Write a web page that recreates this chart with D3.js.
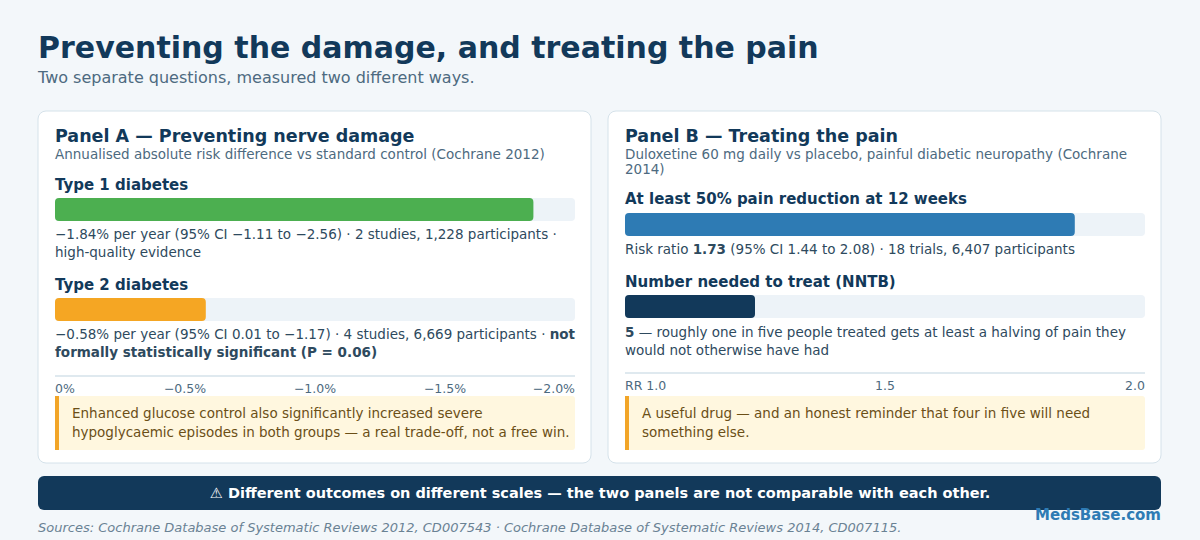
<!DOCTYPE html>
<html><head><meta charset="utf-8">
<script src="https://cdn.jsdelivr.net/npm/d3@7"></script>
<style>body{margin:0;background:#f3f7fa;font-family:"DejaVu Sans",sans-serif}</style>
</head><body><div id="chart"></div>
<script>
// data
const t1Value = 1.84, t2Value = 0.58;
const panelATicks = [0, 0.5, 1.0, 1.5, 2.0];
const panelATickLabels = ["0%", "\u22120.5%", "\u22121.0%", "\u22121.5%", "\u22122.0%"];
const rrValue = 1.73, nntValue = 5;
const panelBTicks = [1.0, 1.5, 2.0];
const panelBTickLabels = ["RR 1.0", "1.5", "2.0"];

const W = 1200, H = 540;
const svg = d3.select("#chart").append("svg").attr("width", W).attr("height", H);
svg.append("rect").attr("width", W).attr("height", H).attr("fill", "#f3f7fa");

const dark = "#12395a", grey = "#4d6a80";
svg.append("text").attr("x", 38).attr("y", 58).attr("font-size", 30).attr("font-weight", "bold")
  .attr("fill", dark).text("Preventing the damage, and treating the pain");
svg.append("text").attr("x", 38).attr("y", 83).attr("font-size", 16).attr("fill", grey)
  .text("Two separate questions, measured two different ways.");

function lines(g, x, y, arr, opts) {
  const t = g.append("text").attr("x", x).attr("y", y).attr("font-size", opts.size || 13.5)
    .attr("fill", opts.fill || "#2e4a5e");
  arr.forEach((ln, i) => {
    const tl = t.append("tspan").attr("x", x).attr("dy", i ? (opts.lh || 18) : 0);
    ln.forEach(seg => {
      const s = typeof seg === "string" ? {t: seg} : seg;
      tl.append("tspan").attr("font-weight", s.b ? "bold" : null).text(s.t);
    });
  });
  return t;
}
function bar(g, x, y, w, val, color) {
  g.append("rect").attr("x", x.range()[0]).attr("y", y).attr("width", w).attr("height", 23)
    .attr("rx", 4).attr("fill", "#edf3f8");
  g.append("rect").attr("x", x.range()[0]).attr("y", y).attr("width", x(val) - x.range()[0])
    .attr("height", 23).attr("rx", 4).attr("fill", color);
}
function panel(x0) {
  const g = svg.append("g");
  g.append("rect").attr("x", x0).attr("y", 111).attr("width", 553).attr("height", 352)
    .attr("rx", 8).attr("fill", "#fff").attr("stroke", "#d5e2ea");
  return g;
}
function note(g, x0, arr) {
  g.append("rect").attr("x", x0).attr("y", 396).attr("width", 520).attr("height", 54)
    .attr("rx", 3).attr("fill", "#fff7df");
  g.append("rect").attr("x", x0).attr("y", 396).attr("width", 4).attr("height", 54).attr("fill", "#f2a527");
  lines(g, x0 + 17, 418, arr, {fill: "#6b4f17", size: 13.5, lh: 19});
}

// Panel A
const gA = panel(38);
const xA = d3.scaleLinear().domain([0, 2]).range([55, 575]);
gA.append("text").attr("x", 55).attr("y", 142).attr("font-size", 17.5).attr("font-weight", "bold").attr("fill", dark)
  .text("Panel A \u2014 Preventing nerve damage");
lines(gA, 55, 159, [["Annualised absolute risk difference vs standard control (Cochrane 2012)"]], {fill: grey, size: 13.5});
gA.append("text").attr("x", 55).attr("y", 190).attr("font-size", 15).attr("font-weight", "bold").attr("fill", dark).text("Type 1 diabetes");
bar(gA, xA, 198, 520, t1Value, "#4caf50");
lines(gA, 55, 239, [["\u22121.84% per year (95% CI \u22121.11 to \u22122.56) \u00b7 2 studies, 1,228 participants \u00b7"], ["high-quality evidence"]], {});
gA.append("text").attr("x", 55).attr("y", 290).attr("font-size", 15).attr("font-weight", "bold").attr("fill", dark).text("Type 2 diabetes");
bar(gA, xA, 298, 520, t2Value, "#f5a623");
lines(gA, 55, 339, [["\u22120.58% per year (95% CI 0.01 to \u22121.17) \u00b7 4 studies, 6,669 participants \u00b7 ", {t: "not", b: 1}], [{t: "formally statistically significant (P = 0.06)", b: 1}]], {});
gA.append("line").attr("x1", 55).attr("x2", 575).attr("y1", 376).attr("y2", 376).attr("stroke", "#d5e2ea").attr("stroke-width", 1.5);
gA.selectAll(".tA").data(panelATicks).join("text")
  .attr("x", d => xA(d)).attr("y", 393).attr("font-size", 12.5).attr("fill", grey)
  .attr("text-anchor", (d, i) => i === 0 ? "start" : i === panelATicks.length - 1 ? "end" : "middle")
  .text((d, i) => panelATickLabels[i]);
note(gA, 55, [["Enhanced glucose control also significantly increased severe"], ["hypoglycaemic episodes in both groups \u2014 a real trade-off, not a free win."]]);

// Panel B
const gB = panel(608);
const xRR = d3.scaleLinear().domain([0, 2]).range([625, 1145]);
const xNNT = d3.scaleLinear().domain([0, 20]).range([625, 1145]);
const xLab = d3.scaleLinear().domain([1, 2]).range([625, 1145]);
gB.append("text").attr("x", 625).attr("y", 142).attr("font-size", 17.5).attr("font-weight", "bold").attr("fill", dark)
  .text("Panel B \u2014 Treating the pain");
lines(gB, 625, 159, [["Duloxetine 60 mg daily vs placebo, painful diabetic neuropathy (Cochrane"], ["2014)"]], {fill: grey, size: 13.5, lh: 15});
gB.append("text").attr("x", 625).attr("y", 204).attr("font-size", 15).attr("font-weight", "bold").attr("fill", dark).text("At least 50% pain reduction at 12 weeks");
bar(gB, xRR, 213, 520, rrValue, "#2e7bb4");
lines(gB, 625, 254, [["Risk ratio ", {t: "1.73", b: 1}, " (95% CI 1.44 to 2.08) \u00b7 18 trials, 6,407 participants"]], {});
gB.append("text").attr("x", 625).attr("y", 287).attr("font-size", 15).attr("font-weight", "bold").attr("fill", dark).text("Number needed to treat (NNTB)");
bar(gB, xNNT, 295, 520, nntValue, "#12395a");
lines(gB, 625, 337, [[{t: "5", b: 1}, " \u2014 roughly one in five people treated gets at least a halving of pain they"], ["would not otherwise have had"]], {});
gB.append("line").attr("x1", 625).attr("x2", 1145).attr("y1", 373).attr("y2", 373).attr("stroke", "#d5e2ea").attr("stroke-width", 1.5);
gB.selectAll(".tB").data(panelBTicks).join("text")
  .attr("x", d => xLab(d)).attr("y", 390).attr("font-size", 12.5).attr("fill", grey)
  .attr("text-anchor", (d, i) => i === 0 ? "start" : i === panelBTicks.length - 1 ? "end" : "middle")
  .text((d, i) => panelBTickLabels[i]);
note(gB, 625, [["A useful drug \u2014 and an honest reminder that four in five will need"], ["something else."]]);

// banner + footer
svg.append("rect").attr("x", 38).attr("y", 476).attr("width", 1123).attr("height", 34).attr("rx", 6).attr("fill", "#12395a");
svg.append("text").attr("x", 600).attr("y", 498).attr("text-anchor", "middle").attr("font-size", 14.5)
  .attr("font-weight", "bold").attr("fill", "#fff")
  .text("\u26a0 Different outcomes on different scales \u2014 the two panels are not comparable with each other.");
svg.append("text").attr("x", 1161).attr("y", 520).attr("text-anchor", "end").attr("font-size", 15)
  .attr("font-weight", "bold").attr("fill", "#2e7bb4").text("MedsBase.com");
svg.append("text").attr("x", 38).attr("y", 532).attr("font-size", 13).attr("font-style", "italic").attr("fill", "#6a8294")
  .text("Sources: Cochrane Database of Systematic Reviews 2012, CD007543 \u00b7 Cochrane Database of Systematic Reviews 2014, CD007115.");
</script></body></html>
